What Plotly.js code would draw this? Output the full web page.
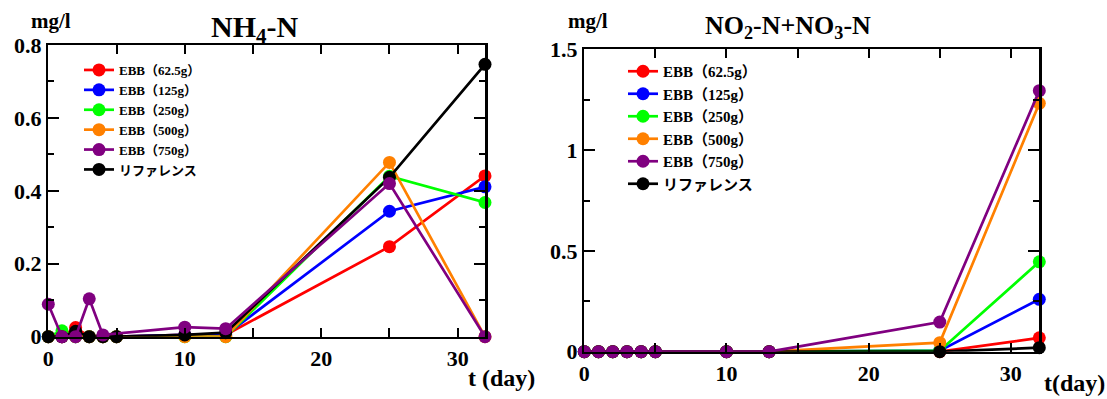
<!DOCTYPE html>
<html><head><meta charset="utf-8">
<script src="https://cdn.plot.ly/plotly-3.0.1.min.js"></script>
<style>
body{margin:0;background:#fff}
#wrap{position:relative;width:1107px;height:399px;overflow:hidden;background:#fff}
#left{position:absolute;left:0;top:0;width:553px;height:399px}
#right{position:absolute;left:500px;top:0;width:607px;height:399px}
#over{position:absolute;left:0;top:0;width:1107px;height:399px}
#note{position:absolute;left:0;top:420px;font:10px monospace}
</style>
</head><body><div id="wrap"><div id="left"></div><div id="right"></div><div id="over"></div></div><div id="note"></div>
<script>
// ---- data ----
const days = [0, 1, 2, 3, 4, 5, 10, 13, 25, 32];
const seriesNames = ['EBB（62.5g）', 'EBB（125g）', 'EBB（250g）', 'EBB（500g）', 'EBB（750g）', 'リファレンス'];
const colors = ['#ff0000', '#0000ff', '#00ff00', '#ff8000', '#800080', '#000000'];

const nh4_625 = [0, 0, 0.025, 0, 0, 0, 0.005, 0.005, 0.247, 0.441];
const nh4_125 = [0, 0, 0, 0, 0, 0, 0.005, 0.005, 0.344, 0.411];
const nh4_250 = [0, 0.016, 0, 0, 0, 0, 0, 0, 0.44, 0.368];
const nh4_500 = [0, 0, 0, 0, 0, 0, 0, 0, 0.478, 0];
const nh4_750 = [0.089, 0, 0, 0.104, 0.005, null, 0.026, 0.022, 0.42, 0];
const nh4_ref = [0, 0, 0.015, 0, 0, 0, 0.005, 0.011, 0.437, 0.747];

const nox_625 = [0, 0, 0, 0, 0, 0, 0, 0, 0, 0.069];
const nox_125 = [0, 0, 0, 0, 0, 0, 0, 0, 0.005, 0.26];
const nox_250 = [0, 0, 0, 0, 0, 0, 0, 0, 0.005, 0.446];
const nox_500 = [0, 0, 0, 0, 0, 0, 0, 0, 0.045, 1.232];
const nox_750 = [0, 0, 0, 0, 0, 0, 0, 0, 0.147, 1.295];
const nox_ref = [0, 0, 0, 0, 0, 0, 0, 0, 0, 0.02];

const nh4 = [nh4_625, nh4_125, nh4_250, nh4_500, nh4_750, nh4_ref];
const nox = [nox_625, nox_125, nox_250, nox_500, nox_750, nox_ref];

// ---- build ----
const H = 399;
const serif = 'Liberation Serif, Times New Roman, Noto Sans CJK JP, serif';
const drawOrder = [0, 1, 2, 3, 5, 4];

function makeTraces(vals) {
  return drawOrder.map(i => ({
    type: 'scatter', mode: 'lines+markers', x: days, y: vals[i],
    name: seriesNames[i], legend: 'legend', legendrank: i + 1,
    xaxis: 'x', yaxis: 'y', connectgaps: true, cliponaxis: false,
    line: {color: colors[i], width: 2.7},
    marker: {color: colors[i], size: 13}
  }));
}
function mkAx(extra) {
  return Object.assign({
    showline: true, linewidth: 2.5, linecolor: '#000', mirror: 'ticks',
    ticks: 'inside', tickwidth: 2, tickcolor: '#000', showgrid: false, zeroline: false,
    tickfont: {family: serif, size: 22, color: '#000', weight: 'bold'}, fixedrange: true
  }, extra);
}
function mkMinor(d, len) {
  return {dtick: d, ticklen: len, ticks: 'inside', tickwidth: 2, tickcolor: '#000', showgrid: false};
}
function annOf(W, text, x, y, size, xanchor) {
  return {text: text, x: x / W, y: 1 - y / H, xref: 'paper', yref: 'paper',
    xanchor: xanchor || 'center', yanchor: 'middle', showarrow: false,
    font: {family: serif, size: size, color: '#000', weight: 'bold'}};
}
function makeLayout(W, o) {
  const px = v => v / W, py = v => 1 - v / H;
  return {
    width: W, height: H, margin: {l: 0, r: 0, t: 0, b: 0},
    font: {family: serif, size: 22, color: '#000', weight: 'bold'},
    paper_bgcolor: '#fff', plot_bgcolor: 'rgba(0,0,0,0)', showlegend: true,
    xaxis: mkAx({domain: [px(o.x0), px(o.x1)], range: [0, 32], tick0: 0, dtick: 10, ticklen: 9, minor: mkMinor(5, 9), anchor: 'y'}),
    yaxis: mkAx({domain: [py(o.y0), py(o.y1)], range: o.yrange, tick0: 0, dtick: o.ydtick, ticklen: 11,
      minor: mkMinor(o.ydtick / 2, 6), anchor: 'x'}),
    legend: {x: px(o.lx), y: py(o.ly), xanchor: 'left', yanchor: 'top', bgcolor: 'rgba(0,0,0,0)', borderwidth: 0,
      tracegroupgap: 0, font: {family: serif, size: o.lfont, color: '#000', weight: 'bold'}},
    annotations: [annOf(W, o.title, o.tx, o.ty, o.tsize)]
  };
}

const cfg = {staticPlot: true, displayModeBar: false};
const offR = 500;

const p1 = Plotly.newPlot(document.getElementById('left'), makeTraces(nh4), makeLayout(553, {
  x0: 48.3, x1: 485, y0: 336.7, y1: 45, yrange: [0, 0.8], ydtick: 0.2,
  lx: 79, ly: 55, lfont: 13,
  title: 'NH<sub>4</sub>-N', tx: 254, ty: 29, tsize: 30
}), cfg);

const p2 = Plotly.newPlot(document.getElementById('right'), makeTraces(nox), makeLayout(607, {
  x0: 584.3 - offR, x1: 1039.3 - offR, y0: 351.7, y1: 49.3, yrange: [0, 1.5], ydtick: 0.5,
  lx: 623 - offR, ly: 55, lfont: 15,
  title: 'NO<sub>2</sub>-N+NO<sub>3</sub>-N', tx: 788 - offR, ty: 27, tsize: 26
}), cfg);

// axis unit labels
const p3 = Plotly.newPlot(document.getElementById('over'), [], {
  width: 1107, height: H, margin: {l: 0, r: 0, t: 0, b: 0},
  paper_bgcolor: 'rgba(0,0,0,0)', plot_bgcolor: 'rgba(0,0,0,0)',
  xaxis: {visible: false}, yaxis: {visible: false}, showlegend: false,
  annotations: [
    annOf(1107, 'mg/l', 29, 21, 21, 'left'),
    annOf(1107, 't (day)', 501, 378, 24),
    annOf(1107, 'mg/l', 566, 21, 21, 'left'),
    annOf(1107, 't(day)', 1074, 383, 24)
  ]
}, cfg);

Promise.all([p1, p2, p3]).then(() => { document.getElementById('note').textContent = '\u00a0'; });
</script>
</body></html>
